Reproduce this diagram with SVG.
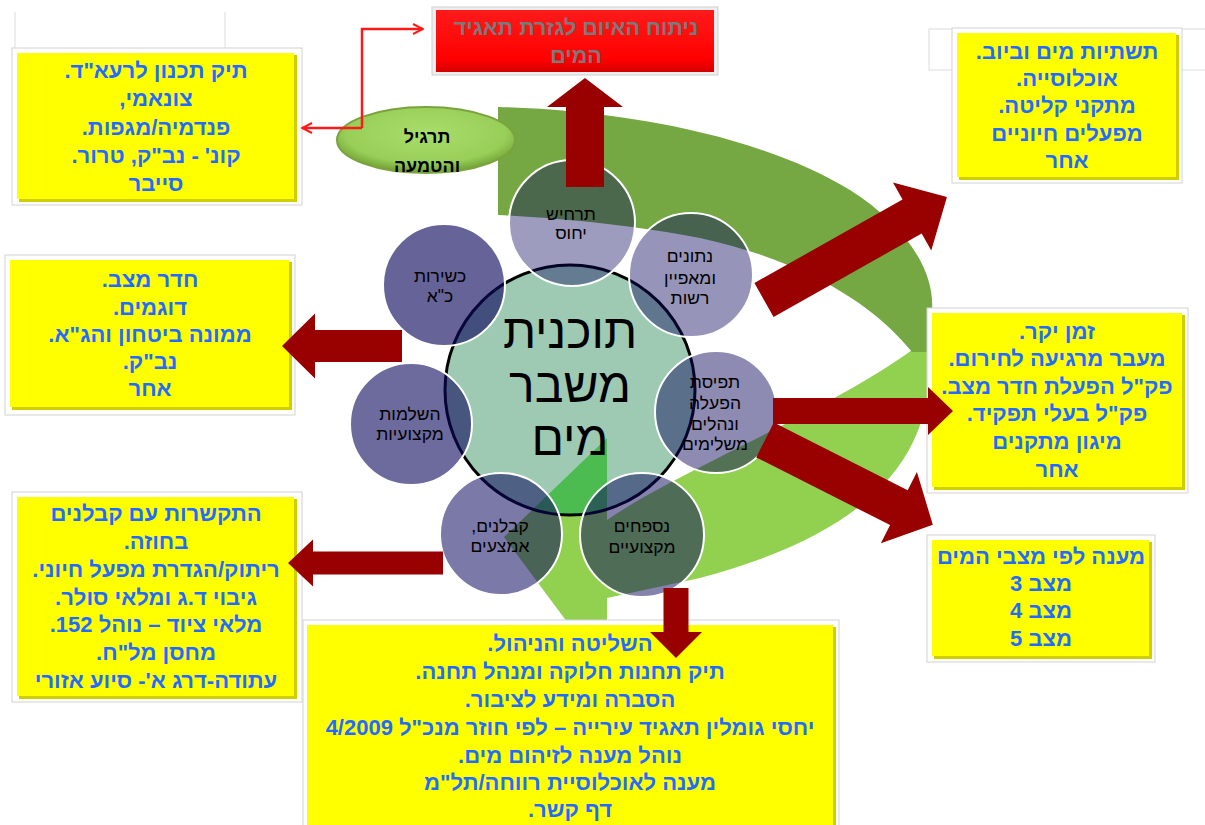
<svg xmlns="http://www.w3.org/2000/svg" width="1205" height="825" viewBox="0 0 1205 825">
<style>
.bo{fill:#ffffff;stroke:#d2d2d2;stroke-width:1}
.bs{fill:#cfcf00}
.by{fill:#ffff00}
.bt{font-family:"Liberation Sans","DejaVu Sans",sans-serif;font-weight:bold;font-size:22px;fill:#1f6cff;text-anchor:middle;direction:rtl;unicode-bidi:embed}
.ct{font-family:"Liberation Sans","DejaVu Sans",sans-serif;font-size:17.5px;fill:#000;text-anchor:middle;direction:rtl;unicode-bidi:embed}
.sat{fill:#0c085c;stroke:#ffffff;stroke-width:2}
.arr{fill:#990000}
.faint{fill:none;stroke:#dcdcdc;stroke-width:1}
</style>
<defs>
<radialGradient id="eg" cx="50%" cy="40%" r="60%">
<stop offset="0" stop-color="#a9dd6c"/>
<stop offset="0.75" stop-color="#98cf58"/>
<stop offset="1" stop-color="#6f9e33"/>
</radialGradient>
<linearGradient id="rg" x1="0" y1="0" x2="0" y2="1">
<stop offset="0" stop-color="#ff1a1a"/>
<stop offset="0.8" stop-color="#ff0000"/>
<stop offset="1" stop-color="#d40000"/>
</linearGradient>
<clipPath id="cc"><circle cx="570" cy="390" r="125"/></clipPath>
<marker id="oa" viewBox="0 0 12 12" refX="11" refY="6" markerWidth="12" markerHeight="12" markerUnits="userSpaceOnUse" orient="auto">
<path d="M1,1 L11,6 L1,11" fill="none" stroke="#ff1a1a" stroke-width="2"/>
</marker>
</defs>
<rect x="0" y="0" width="1205" height="825" fill="#ffffff"/>

<g id="background-marks">
<line class="faint" x1="15" y1="12" x2="15" y2="48"/>
<line class="faint" x1="225" y1="12" x2="225" y2="48"/>
<rect class="faint" x="929" y="29" width="290" height="41"/>
</g>

<g id="green-cycle">
<path d="M912,350 L930,350 C935,450 880,530 700,578 L607,598 L607,630 L573,630 L504,537 L607,438 L607,520 C680,470 830,410 912,350 Z" fill="#92d050"/>
<path d="M498,107 C620,110 760,135 850,190 C905,225 935,270 932,310 L930,352 L912,352 C870,300 800,260 700,238 C640,226 560,218 498,215 Z" fill="#75a843"/>
</g>

<g id="box-top-left">
<rect class="bo" x="12" y="48" width="290" height="157"/>
<rect class="bs" x="19" y="55" width="278" height="147"/>
<rect class="by" x="17" y="53" width="277" height="146"/>
<text class="bt" x="156" y="78">תיק תכנון לרעא"ד.</text>
<text class="bt" x="156" y="106">צונאמי,</text>
<text class="bt" x="156" y="135">פנדמיה/מגפות.</text>
<text class="bt" x="156" y="163">קונ' - נב"ק, טרור.</text>
<text class="bt" x="156" y="191">סייבר</text>
</g>

<g id="box-left-mid">
<rect class="bo" x="5" y="255" width="290" height="160"/>
<rect class="bs" x="12" y="262" width="280" height="148"/>
<rect class="by" x="10" y="260" width="279" height="147"/>
<text class="bt" x="150" y="287">חדר מצב.</text>
<text class="bt" x="150" y="315">דוגמים.</text>
<text class="bt" x="150" y="342">ממונה ביטחון והג"א.</text>
<text class="bt" x="150" y="369">נב"ק.</text>
<text class="bt" x="150" y="396">אחר</text>
</g>

<g id="box-left-low">
<rect class="bo" x="12" y="492" width="290" height="210"/>
<rect class="bs" x="19" y="499" width="278" height="200"/>
<rect class="by" x="17" y="497" width="277" height="199"/>
<text class="bt" x="156" y="521">התקשרות עם קבלנים</text>
<text class="bt" x="156" y="549">בחוזה.</text>
<text class="bt" x="156" y="577">ריתוק/הגדרת מפעל חיוני.</text>
<text class="bt" x="156" y="605">גיבוי ד.ג ומלאי סולר.</text>
<text class="bt" x="156" y="632">מלאי ציוד – נוהל 152.</text>
<text class="bt" x="156" y="660">מחסן מל"ח.</text>
<text class="bt" x="156" y="688">עתודה-דרג א'- סיוע אזורי</text>
</g>

<g id="box-bottom">
<rect class="bo" x="303" y="620" width="536" height="215"/>
<rect class="bs" x="309" y="627" width="527" height="205"/>
<rect class="by" x="307" y="625" width="526" height="205"/>
<text class="bt" x="570" y="651">השליטה והניהול.</text>
<text class="bt" x="570" y="679">תיק תחנות חלוקה ומנהל תחנה.</text>
<text class="bt" x="570" y="707">הסברה ומידע לציבור.</text>
<text class="bt" x="570" y="735">יחסי גומלין תאגיד עירייה – לפי חוזר מנכ"ל 4/2009</text>
<text class="bt" x="570" y="763">נוהל מענה לזיהום מים.</text>
<text class="bt" x="570" y="790">מענה לאוכלוסיית רווחה/תל"מ</text>
<text class="bt" x="570" y="817">דף קשר.</text>
</g>

<g id="box-top-right">
<rect class="bo" x="952" y="28" width="230" height="155"/>
<rect class="bs" x="959" y="35" width="220" height="145"/>
<rect class="by" x="957" y="33" width="219" height="144"/>
<text class="bt" x="1067" y="59">תשתיות מים וביוב.</text>
<text class="bt" x="1067" y="86">אוכלוסייה.</text>
<text class="bt" x="1067" y="113">מתקני קליטה.</text>
<text class="bt" x="1067" y="141">מפעלים חיוניים</text>
<text class="bt" x="1067" y="168">אחר</text>
</g>

<g id="box-right-mid">
<rect class="bo" x="927" y="308" width="261" height="185"/>
<rect class="bs" x="934" y="315" width="251" height="175"/>
<rect class="by" x="932" y="313" width="250" height="174"/>
<text class="bt" x="1057" y="339">זמן יקר.</text>
<text class="bt" x="1057" y="366">מעבר מרגיעה לחירום.</text>
<text class="bt" x="1057" y="394">פק"ל הפעלת חדר מצב.</text>
<text class="bt" x="1057" y="421">פק"ל בעלי תפקיד.</text>
<text class="bt" x="1057" y="449">מיגון מתקנים</text>
<text class="bt" x="1057" y="477">אחר</text>
</g>

<g id="box-right-low">
<rect class="bo" x="927" y="535" width="228" height="127"/>
<rect class="bs" x="934" y="542" width="218" height="117"/>
<rect class="by" x="932" y="540" width="217" height="116"/>
<text class="bt" x="1041" y="564">מענה לפי מצבי המים</text>
<text class="bt" x="1041" y="591">מצב 3</text>
<text class="bt" x="1041" y="618">מצב 4</text>
<text class="bt" x="1041" y="646">מצב 5</text>
</g>

<g id="center">
<circle cx="570" cy="390" r="125" fill="#9ecab4"/>
<polygon points="504,537 607,438 607,630 573,630" fill="#4cbb50" clip-path="url(#cc)"/>
<circle cx="570" cy="390" r="125" fill="none" stroke="#000" stroke-width="3"/>
<g font-family="Liberation Sans, DejaVu Sans, sans-serif" font-size="48" text-anchor="middle" fill="#000" direction="rtl">
<text x="570" y="348">תוכנית</text>
<text x="570" y="402">משבר</text>
<text x="570" y="455">מים</text>
</g>
</g>

<g id="sat-scenario">
<circle class="sat" cx="572" cy="223" r="63" fill-opacity="0.4"/>
<text class="ct" x="571" y="220">תרחיש</text>
<text class="ct" x="571" y="239">יחוס</text>
</g>
<g id="sat-data">
<circle class="sat" cx="691" cy="275" r="62" fill-opacity="0.43"/>
<text class="ct" x="690" y="262">נתונים</text>
<text class="ct" x="690" y="284">ומאפיין</text>
<text class="ct" x="690" y="304">רשות</text>
</g>
<g id="sat-concept">
<circle class="sat" cx="716" cy="412" r="61" fill-opacity="0.47"/>
<text class="ct" x="715" y="388">תפיסת</text>
<text class="ct" x="715" y="409">הפעלה</text>
<text class="ct" x="715" y="430">ונהלים</text>
<text class="ct" x="715" y="450">משלימים</text>
</g>
<g id="sat-appendix">
<circle class="sat" cx="642" cy="535" r="62" fill-opacity="0.5"/>
<text class="ct" x="642" y="532">נספחים</text>
<text class="ct" x="642" y="553">מקצועיים</text>
</g>
<g id="sat-contractors">
<circle class="sat" cx="501" cy="534" r="61" fill-opacity="0.54"/>
<text class="ct" x="500" y="532">קבלנים,</text>
<text class="ct" x="500" y="552">אמצעים</text>
</g>
<g id="sat-training">
<circle class="sat" cx="411" cy="424" r="61" fill-opacity="0.6"/>
<text class="ct" x="410" y="420">השלמות</text>
<text class="ct" x="410" y="440">מקצועיות</text>
</g>
<g id="sat-staff">
<circle class="sat" cx="444" cy="285" r="61" fill-opacity="0.63"/>
<text class="ct" x="440" y="282">כשירות</text>
<text class="ct" x="440" y="302">כ"א</text>
</g>

<g id="exercise">
<ellipse cx="426" cy="140" rx="89" ry="33" fill="url(#eg)" stroke="#7aa23e" stroke-width="2"/>
<g font-family="Liberation Sans, DejaVu Sans, sans-serif" font-size="18" font-weight="bold" text-anchor="middle" fill="#000" direction="rtl">
<text x="427" y="143">תרגיל</text>
<text x="427" y="172">והטמעה</text>
</g>
</g>

<g id="threat">
<rect x="432" y="7" width="286" height="68" fill="#eeeeee" stroke="#cfcfcf"/>
<rect x="436" y="10" width="278" height="62" fill="url(#rg)"/>
<g font-family="Liberation Sans, DejaVu Sans, sans-serif" font-size="21.5" font-weight="bold" text-anchor="middle" fill="#7a7a7a" direction="rtl">
<text x="576" y="35">ניתוח האיום לגזרת תאגיד</text>
<text x="576" y="63">המים</text>
</g>
</g>

<g id="connectors">
<polyline points="362,128 362,29 423,29" fill="none" stroke="#ff1a1a" stroke-width="2.5" marker-end="url(#oa)"/>
<polyline points="362,128 302,128" fill="none" stroke="#ff1a1a" stroke-width="2.5" marker-end="url(#oa)"/>
<path class="arr" transform="translate(585,187) rotate(-90)" d="M0,-19 L80,-19 L80,-38 L109,0 L80,38 L80,19 L0,19 Z"/>
<path class="arr" transform="translate(764,300) rotate(-29.4)" d="M0,-19.5 L170,-19.5 L170,-39 L210,0 L170,39 L170,19.5 L0,19.5 Z"/>
<path class="arr" transform="translate(773,411)" d="M0,-13 L155,-13 L155,-24 L180,0 L155,24 L155,13 L0,13 Z"/>
<path class="arr" transform="translate(765,440) rotate(26.8)" d="M0,-19.5 L150,-19.5 L150,-40 L188,0 L150,40 L150,19.5 L0,19.5 Z"/>
<path class="arr" transform="translate(676,588) rotate(90)" d="M0,-12.5 L44,-12.5 L44,-26 L70,0 L44,26 L44,12.5 L0,12.5 Z"/>
<path class="arr" transform="translate(402,346) rotate(180)" d="M0,-16 L87,-16 L87,-32.5 L120,0 L87,32.5 L87,16 L0,16 Z"/>
<path class="arr" transform="translate(443,563) rotate(180)" d="M0,-11.5 L130,-11.5 L130,-23.5 L155,0 L130,23.5 L130,11.5 L0,11.5 Z"/>
</g>
</svg>
